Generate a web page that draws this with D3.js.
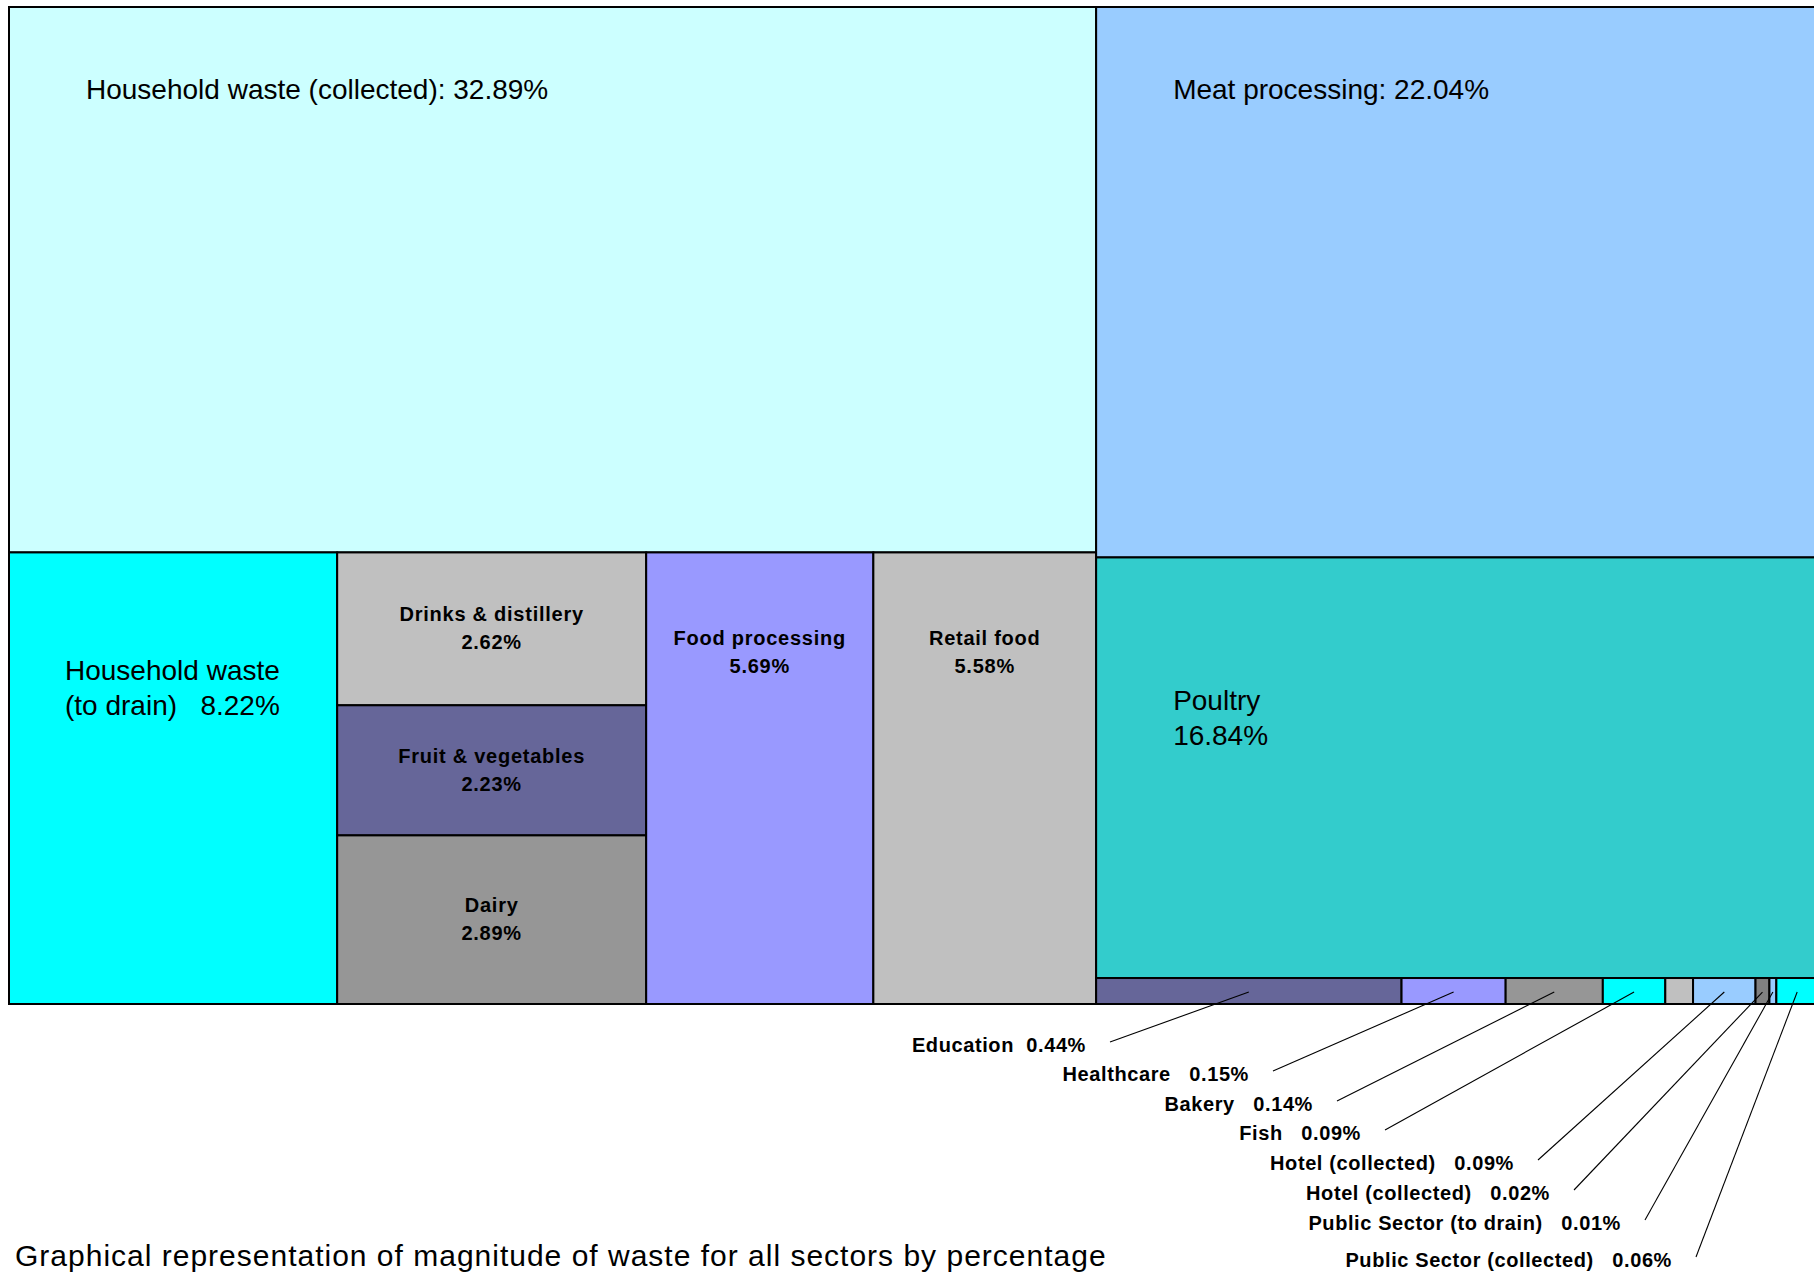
<!DOCTYPE html>
<html>
<head>
<meta charset="utf-8">
<script src="https://cdn.jsdelivr.net/npm/d3@7"></script>
<style>
  html, body { margin: 0; padding: 0; background: #ffffff; overflow: hidden; }
  svg { display: block; font-family: "Liberation Sans", Arial, sans-serif; }
  text { white-space: pre; }
</style>
</head>
<body>
<svg id="chart" width="1814" height="1274"></svg>
<script>
// ---------------- DATA ----------------
const sectors = [
  "Household waste (collected)", "Household waste (to drain)",
  "Drinks & distillery", "Fruit & vegetables", "Dairy",
  "Food processing", "Retail food",
  "Meat processing", "Poultry",
  "Education", "Healthcare", "Bakery", "Fish", "",
  "Hotel (collected)", "Hotel (collected)",
  "Public Sector (to drain)", "Public Sector (collected)"
];
const percentages = [
  32.89, 8.22,
  2.62, 2.23, 2.89,
  5.69, 5.58,
  22.04, 16.84,
  0.44, 0.15, 0.14, 0.09, 0.04,
  0.09, 0.02,
  0.01, 0.06
];
const titleText = "Graphical representation of magnitude of waste for all sectors by percentage";

// ---------------- STYLE ----------------
const fillColors = [
  "#CCFFFF", "#00FFFF",
  "#C0C0C0", "#666699", "#969696",
  "#9999FF", "#C0C0C0",
  "#99CCFF", "#33CCCC",
  "#666699", "#9999FF", "#969696", "#00FFFF", "#C0C0C0",
  "#99CCFF", "#808080",
  "#99CCFF", "#00FFFF"
];
// label kind for each sector
const labelKind = [
  "inline", "twoLineSplit",
  "boldMid", "boldMid", "boldMid",
  "boldTop", "boldTop",
  "inline", "twoLine",
  "callout", "callout", "callout", "callout", "none",
  "callout", "callout", "callout", "callout"
];
// callout text placement (text right end, baseline) and separator
const calloutLayout = {
  9:  {sep: "  ",  endX: 1086, base: 1052},
  10: {sep: "   ", endX: 1249, base: 1081},
  11: {sep: "   ", endX: 1313, base: 1111},
  12: {sep: "   ", endX: 1361, base: 1140},
  14: {sep: "   ", endX: 1514, base: 1170},
  15: {sep: "   ", endX: 1550, base: 1200},
  16: {sep: "   ", endX: 1621, base: 1230},
  17: {sep: "   ", endX: 1672, base: 1267}
};

const W = 1814, H = 1274;
const frame = {x0: 9, y0: 7, x1: 1818, y1: 1004};
const fmt = v => v.toFixed(2) + "%";

// ---------------- HIERARCHY ----------------
const leaf = i => ({i: i, value: percentages[i]});
const tree = {children: [
  {children: [leaf(0), {children: [leaf(1), {children: [leaf(2), leaf(3), leaf(4)]}, leaf(5), leaf(6)]}]},
  {children: [leaf(7), leaf(8), {children: d3.range(9, sectors.length).map(leaf)}]}
]};

const root = d3.hierarchy(tree).sum(d => d.value || 0);
d3.treemap()
  .tile(d3.treemapSliceDice)
  .size([frame.x1 - frame.x0, frame.y1 - frame.y0])
  .padding(0)
  .round(false)(root);

const svg = d3.select("#chart");
const g = svg.append("g").attr("transform", `translate(${frame.x0},${frame.y0})`);

const leaves = root.leaves();

g.selectAll("rect.cell")
  .data(leaves)
  .join("rect")
  .attr("class", "cell")
  .attr("x", d => d.x0)
  .attr("y", d => d.y0)
  .attr("width", d => d.x1 - d.x0)
  .attr("height", d => d.y1 - d.y0)
  .attr("fill", d => fillColors[d.data.i])
  .attr("stroke", "#000")
  .attr("stroke-width", 2);

// ---------------- LABELS ----------------
const lbl = g.append("g");
leaves.forEach(d => {
  const i = d.data.i;
  const kind = labelKind[i];
  const name = sectors[i];
  const pct = fmt(percentages[i]);
  const cx = (d.x0 + d.x1) / 2, cy = (d.y0 + d.y1) / 2;
  if (kind === "inline") {
    lbl.append("text")
      .attr("x", d.x0 + 77).attr("y", d.y0 + 92)
      .attr("font-size", 28).attr("fill", "#000")
      .text(name + ": " + pct);
  } else if (kind === "twoLineSplit") {
    const k = name.indexOf(" (");
    const t = lbl.append("text").attr("font-size", 28).attr("fill", "#000");
    t.append("tspan").attr("x", d.x0 + 56).attr("y", d.y0 + 128).text(name.slice(0, k));
    t.append("tspan").attr("x", d.x0 + 56).attr("y", d.y0 + 163).text(name.slice(k + 1) + "   " + pct);
  } else if (kind === "twoLine") {
    const t = lbl.append("text").attr("font-size", 28).attr("fill", "#000");
    t.append("tspan").attr("x", d.x0 + 77).attr("y", d.y0 + 153).text(name);
    t.append("tspan").attr("x", d.x0 + 77).attr("y", d.y0 + 188).text(pct);
  } else if (kind === "boldMid" || kind === "boldTop") {
    const b1 = kind === "boldMid" ? cy - 7.5 : d.y0 + 93;
    const t = lbl.append("text").attr("font-size", 20).attr("font-weight", "bold")
      .attr("letter-spacing", 0.75).attr("text-anchor", "middle").attr("fill", "#000");
    t.append("tspan").attr("x", cx).attr("y", b1).text(name);
    t.append("tspan").attr("x", cx).attr("y", b1 + 28).text(pct);
  }
});

// callouts (drawn in page coordinates)
const co = svg.append("g");
leaves.filter(d => labelKind[d.data.i] === "callout").forEach(d => {
  const i = d.data.i;
  const L = calloutLayout[i];
  const tx = frame.x0 + (d.x0 + d.x1) / 2;
  const ty = frame.y0 + (d.y0 + d.y1) / 2 + 1;
  co.append("line")
    .attr("x1", L.endX + 24).attr("y1", L.base - 10)
    .attr("x2", tx).attr("y2", ty)
    .attr("stroke", "#000").attr("stroke-width", 1.1);
  co.append("text")
    .attr("x", L.endX).attr("y", L.base)
    .attr("text-anchor", "end")
    .attr("font-size", 20).attr("font-weight", "bold").attr("letter-spacing", 0.6)
    .attr("fill", "#000")
    .text(sectors[i] + L.sep + fmt(percentages[i]));
});

// title
svg.append("text")
  .attr("x", 15).attr("y", 1266)
  .attr("font-size", 30).attr("letter-spacing", 1)
  .attr("fill", "#000")
  .text(titleText);
</script>
</body>
</html>
